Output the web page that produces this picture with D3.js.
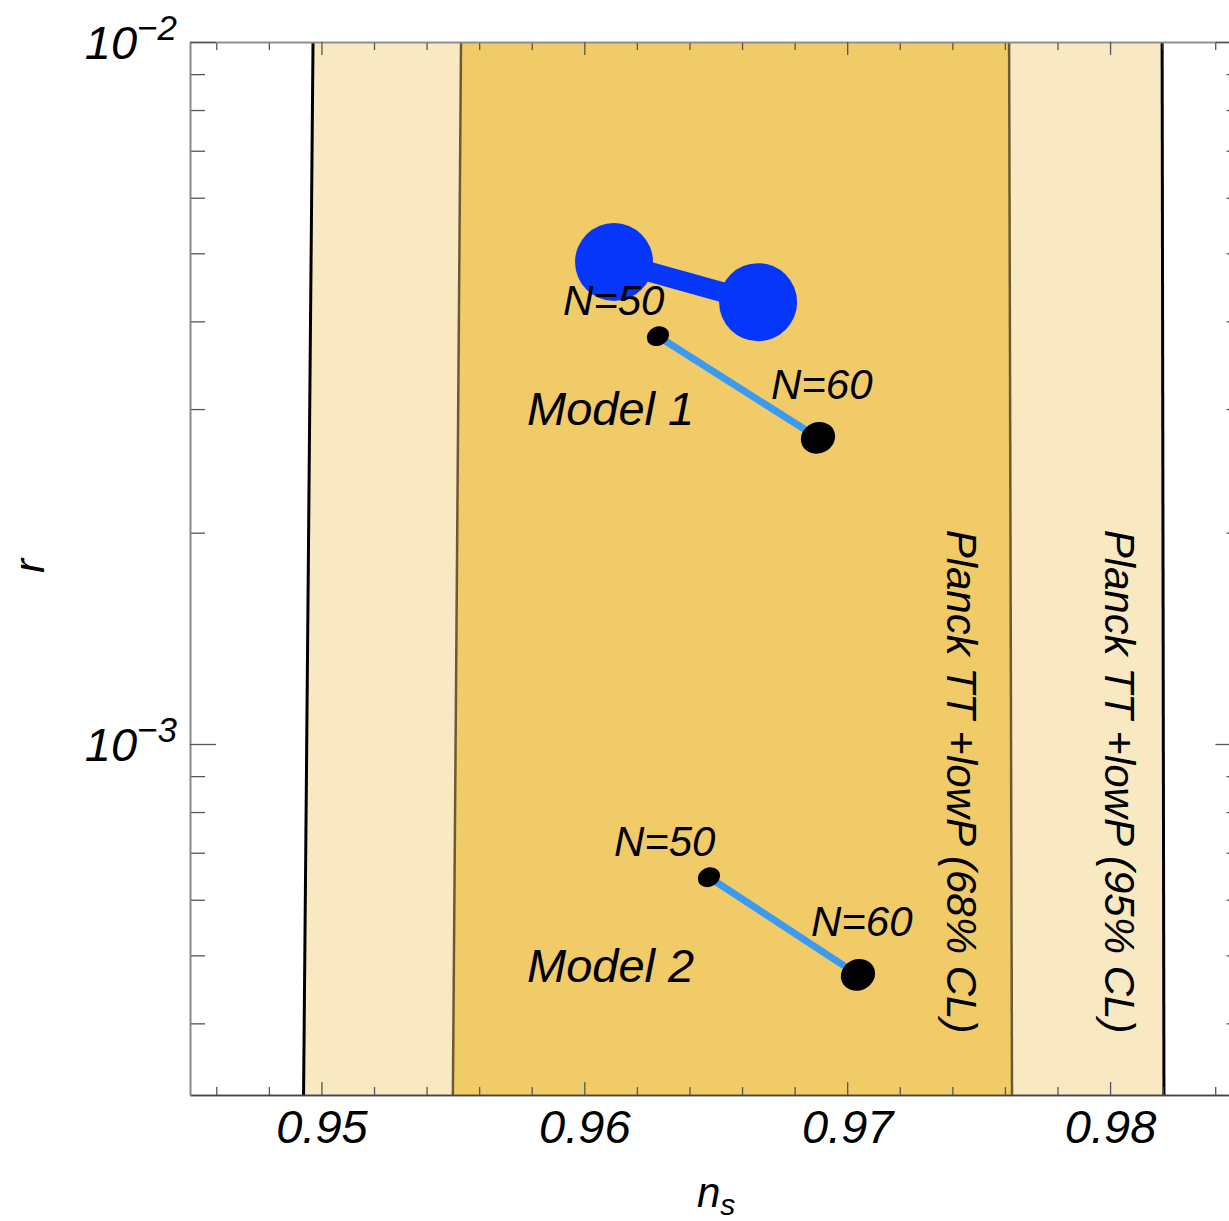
<!DOCTYPE html>
<html>
<head>
<meta charset="utf-8">
<script src="https://cdn.jsdelivr.net/npm/d3@7"></script>
<style>
  body { margin: 0; background: #fff; }
  svg { display: block; }
  text { font-family: "Liberation Sans", Arial, sans-serif; font-style: italic; fill: #000; }
</style>
</head>
<body>
<script>
// Planck TT+lowP contours: boundary n_s at r = 1e-2 (top) and r = 10^-3.5 (bottom)
const bound95 = { left: [0.94968, 0.94932], right: [0.98198, 0.98205] };
const bound68 = { left: [0.95531, 0.95500], right: [0.97616, 0.97627] };
const rEnds = [1e-2, Math.pow(10, -3.5)];

// model predictions (N=50, N=60)
const model1 = [{ N: 50, ns: 0.96280, r: 3.81e-3 }, { N: 60, ns: 0.96889, r: 2.73e-3 }];
const model2 = [{ N: 50, ns: 0.96474, r: 6.46e-4 }, { N: 60, ns: 0.97041, r: 4.69e-4 }];
const modelNames = ["Model 1", "Model 2"];
const modelLabelPos = [{ ns: 0.95782, r: 2.85e-3 }, { ns: 0.95782, r: 4.58e-4 }];

// blue scatter blob (two clusters joined)
const blob = [{ ns: 0.96113, r: 4.86e-3 }, { ns: 0.96661, r: 4.26e-3 }];

const xMajor = [0.95, 0.96, 0.97, 0.98];
const xMinor = d3.range(0.946, 0.9845, 0.002).filter(v => !xMajor.some(m => Math.abs(m - v) < 1e-6));
const yMajor = [1e-3, 1e-2];
const yMinor = [4e-4, 5e-4, 6e-4, 7e-4, 8e-4, 9e-4, 2e-3, 3e-3, 4e-3, 5e-3, 6e-3, 7e-3, 8e-3, 9e-3];

const bandLabels = [
  { text: "Planck TT +lowP (68% CL)", ns: 0.97380, r: 2.02e-3 },
  { text: "Planck TT +lowP (95% CL)", ns: 0.97981, r: 2.02e-3 }
];

const W = 1229, H = 1221;
const pLeft = 190, pTop = 42, pBottom = 1095, pRight = 1241.5;

const svg = d3.select("body").append("svg").attr("width", W).attr("height", H);

const x = d3.scaleLinear().domain([0.945, 0.985]).range([pLeft, pRight]);
const y = d3.scaleLog().domain([Math.pow(10, -3.5), 1e-2]).range([pBottom, pTop]);

svg.append("clipPath").attr("id", "plot")
  .append("rect").attr("x", pLeft).attr("y", pTop).attr("width", pRight - pLeft).attr("height", pBottom - pTop);

const plot = svg.append("g").attr("clip-path", "url(#plot)");

// bands
function bandPath(lo, hi) {
  const pts = [
    [x(lo[0]), y(rEnds[0])], [x(hi[0]), y(rEnds[0])],
    [x(hi[1]), y(rEnds[1])], [x(lo[1]), y(rEnds[1])]
  ];
  return d3.line()(pts) + "Z";
}
plot.append("path").attr("d", bandPath(bound95.left, bound95.right)).attr("fill", "#f9e9c3");
plot.append("path").attr("d", bandPath(bound68.left, bound68.right)).attr("fill", "#f1cb67");

const edge = d3.line();
[bound68.left, bound68.right].forEach(b => {
  plot.append("path")
    .attr("d", edge([[x(b[0]), y(rEnds[0])], [x(b[1]), y(rEnds[1])]]))
    .attr("stroke", "#6b5a34").attr("stroke-width", 2.5).attr("fill", "none");
});
[bound95.left, bound95.right].forEach(b => {
  plot.append("path")
    .attr("d", edge([[x(b[0]), y(rEnds[0])], [x(b[1]), y(rEnds[1])]]))
    .attr("stroke", "#000").attr("stroke-width", 3).attr("fill", "none");
});

// band labels (rotated)
bandLabels.forEach(d => {
  plot.append("text")
    .attr("transform", `translate(${x(d.ns)},${y(d.r)}) rotate(90)`)
    .attr("font-size", 42)
    .text(d.text);
});

// blue blob
plot.append("path")
  .attr("d", d3.line()(blob.map(d => [x(d.ns), y(d.r)])))
  .attr("stroke", "#0636fa").attr("stroke-width", 20).attr("fill", "none");
plot.selectAll("circle.blob").data(blob).join("circle")
  .attr("class", "blob")
  .attr("cx", d => x(d.ns)).attr("cy", d => y(d.r)).attr("r", 39)
  .attr("fill", "#0636fa");

// models
[model1, model2].forEach((m, i) => {
  plot.append("path")
    .attr("d", d3.line()(m.map(d => [x(d.ns), y(d.r)])))
    .attr("stroke", "#3b9bf3").attr("stroke-width", 7).attr("fill", "none");
  plot.selectAll(null).data(m).join("ellipse")
    .attr("cx", d => x(d.ns)).attr("cy", d => y(d.r))
    .attr("rx", d => d.N === 50 ? 11.5 : 17.5)
    .attr("ry", d => d.N === 50 ? 9.5 : 15.5)
    .attr("transform", d => `rotate(-25,${x(d.ns)},${y(d.r)})`)
    .attr("fill", "#000");
  plot.selectAll(null).data(m).join("text")
    .attr("x", d => x(d.ns) + (d.N === 50 ? -95 : -47))
    .attr("y", d => y(d.r) + (d.N === 50 ? -21 : -39))
    .attr("font-size", 42)
    .text(d => "N=" + d.N);
  plot.append("text")
    .attr("x", x(modelLabelPos[i].ns)).attr("y", y(modelLabelPos[i].r))
    .attr("font-size", 47)
    .attr("xml:space", "preserve")
    .text(modelNames[i]);
});

// axes
function styleAxis(g, col) {
  g.select(".domain").attr("stroke", col).attr("stroke-width", 1.6);
  g.selectAll(".tick line").attr("stroke", "#555").attr("stroke-width", 1.3);
}

const gxMinB = svg.append("g").attr("transform", `translate(0,${pBottom})`)
  .call(d3.axisBottom(x).tickValues(xMinor).tickSize(-8).tickSizeOuter(0).tickFormat(""));
styleAxis(gxMinB, "#444");
const gxMajB = svg.append("g").attr("transform", `translate(0,${pBottom})`)
  .call(d3.axisBottom(x).tickValues(xMajor).tickSize(-13).tickSizeOuter(0).tickFormat(d3.format(".2f")));
styleAxis(gxMajB, "#444");
gxMajB.selectAll(".tick text")
  .attr("y", 48).attr("dy", 0).attr("font-size", 47)
  .style("font-family", "'Liberation Sans', Arial, sans-serif").style("font-style", "italic");

const gxMinT = svg.append("g").attr("transform", `translate(0,${pTop})`)
  .call(d3.axisTop(x).tickValues(xMinor).tickSize(-8).tickSizeOuter(0).tickFormat(""));
styleAxis(gxMinT, "#8a8a8a");
const gxMajT = svg.append("g").attr("transform", `translate(0,${pTop})`)
  .call(d3.axisTop(x).tickValues(xMajor).tickSize(-13).tickSizeOuter(0).tickFormat(""));
styleAxis(gxMajT, "#8a8a8a");

const gyMinL = svg.append("g").attr("transform", `translate(${pLeft},0)`)
  .call(d3.axisLeft(y).tickValues(yMinor).tickSize(-15).tickSizeOuter(0).tickFormat(""));
styleAxis(gyMinL, "#8a8a8a");
const gyMajL = svg.append("g").attr("transform", `translate(${pLeft},0)`)
  .call(d3.axisLeft(y).tickValues(yMajor).tickSize(-26).tickSizeOuter(0).tickFormat(""));
styleAxis(gyMajL, "#8a8a8a");
gyMajL.selectAll(".tick").each(function(d) {
  const t = d3.select(this).append("text")
    .attr("x", -13).attr("y", 16)
    .attr("text-anchor", "end")
    .attr("font-size", 47)
    .style("font-family", "'Liberation Sans', Arial, sans-serif").style("font-style", "italic")
    .attr("fill", "#000");
  t.append("tspan").text("10");
  t.append("tspan").attr("dy", -19).attr("font-size", 35).text("\u2212" + Math.round(-Math.log10(d)));
});

const gyMinR = svg.append("g").attr("transform", `translate(${pRight},0)`)
  .call(d3.axisRight(y).tickValues(yMinor).tickSize(-15).tickSizeOuter(0).tickFormat(""));
styleAxis(gyMinR, "#8a8a8a");
const gyMajR = svg.append("g").attr("transform", `translate(${pRight},0)`)
  .call(d3.axisRight(y).tickValues(yMajor).tickSize(-26).tickSizeOuter(0).tickFormat(""));
styleAxis(gyMajR, "#8a8a8a");

// axis titles
const xt = svg.append("text").attr("x", 697).attr("y", 1207).attr("font-size", 42);
xt.append("tspan").text("n");
xt.append("tspan").attr("dy", 8).attr("font-size", 30).text("s");

svg.append("text")
  .attr("transform", "translate(44,566) rotate(-90)")
  .attr("text-anchor", "middle")
  .attr("font-size", 42)
  .text("r");
</script>
</body>
</html>
